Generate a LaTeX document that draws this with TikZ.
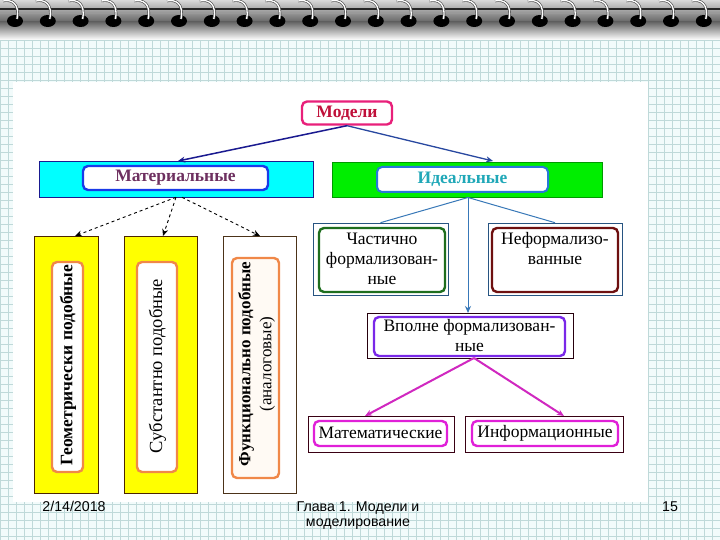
\documentclass[tikz,border=0pt]{standalone}
\usepackage{fontspec}
\setmainfont{Liberation Serif}
\newfontfamily\footsans{Liberation Sans}
\usetikzlibrary{arrows.meta,calc}
\definecolor{gridbg}{HTML}{F2FBFB}
\definecolor{gridln}{HTML}{BFD9D9}
\definecolor{modc}{HTML}{E8207A}
\definecolor{modt}{HTML}{C0103A}
\definecolor{matb}{HTML}{1A3AE8}
\definecolor{matt}{HTML}{6E3060}
\definecolor{idb}{HTML}{2878D8}
\definecolor{idt}{HTML}{20A8B8}
\definecolor{chg}{HTML}{1E6E1E}
\definecolor{nfr}{HTML}{6E1010}
\definecolor{vpp}{HTML}{7A28E8}
\definecolor{mag}{HTML}{E020D8}
\definecolor{magl}{HTML}{D028C0}
\definecolor{orb}{HTML}{F08848}
\definecolor{lblue}{HTML}{3878B8}
\definecolor{dblue}{HTML}{1A1A90}
\definecolor{cyanfill}{HTML}{00FFFF}
\definecolor{greenfill}{HTML}{00EE00}
\definecolor{yelfill}{HTML}{FFFF00}
\tikzset{
  band/.style={draw=#1, line width=0.6pt, inner sep=0pt},
  inbox/.style={draw=#1, line width=2.4pt, rounded corners=5pt, fill=white, inner sep=0pt, align=center},
  lab/.style={font=\fontsize{17.5}{20}\selectfont, align=center, inner sep=0pt},
  conn/.style={line width=1.1pt, -{Stealth[length=7pt,width=6pt]}},
  foot/.style={font=\footsans\fontsize{14.2}{15}\selectfont, inner sep=0pt, align=center},
}
\begin{document}
\begin{tikzpicture}[x=1pt,y=-1pt]
\useasboundingbox (0,0) rectangle (720,540);
% paper background
\fill[gridbg] (0,0) rectangle (720,540);
\foreach \gx in {0,8,...,720} \draw[gridln, line width=0.5pt] (\gx,38) -- (\gx,540);
\foreach \gy in {40,48,...,540} \draw[gridln, line width=0.5pt] (0,\gy) -- (720,\gy);
% spiral strip
\shade[top color=black!15, bottom color=black!60] (0,0) rectangle (720,22);
\shade[top color=black!60, bottom color=white] (0,22) rectangle (720,40);
\draw[black!85, line width=1.8pt] (0,9) -- (720,9);
\draw[white!60!black, line width=0.8pt] (0,13) -- (720,13);
\foreach \i in {0,...,21} {
  \pgfmathsetmacro{\rx}{15+32.8*\i}
  \fill[black] (\rx,21) ellipse[x radius=8, y radius=6];
  \draw[black!70, line width=2.6pt] (\rx+2,19) .. controls (\rx+5,4) and (\rx-3,-1) .. (\rx-12,1);
  \draw[white, line width=1.3pt] (\rx+2,19) .. controls (\rx+5,4) and (\rx-3,-1) .. (\rx-12,1);
}
% white sheet
\fill[white] (13,82) rectangle (648,502);

% top node
\node[inbox=modc, minimum width=90pt, minimum height=23pt, font=\fontsize{17.5}{20}\selectfont\bfseries, text=modt] (mod) at (347,113) {Модели};

% material branch
\node[band=dblue, fill=cyanfill, minimum width=274pt, minimum height=36pt] (matband) at (176,179) {};
\node[inbox=matb, minimum width=185pt, minimum height=24pt, font=\fontsize{17.5}{20}\selectfont\bfseries, text=matt] (mat) at (175.5,178) {Материальные};

% ideal branch
\node[band=green!60!black, fill=greenfill, minimum width=270pt, minimum height=35pt] (idband) at (467,179.5) {};
\node[inbox=idb, line width=2pt, minimum width=171pt, minimum height=25pt, font=\fontsize{17.5}{20}\selectfont\bfseries, text=idt] (id) at (462.5,179.5) {Идеальные};

% material children
\node[band=black!70!orange, fill=yelfill, minimum width=64pt, minimum height=257pt] (g1) at (66,364.5) {};
\node[inbox=orb, minimum width=31pt, minimum height=210pt] (g1i) at (67.5,367) {};
\node[lab, rotate=90, font=\fontsize{17.5}{22}\selectfont\bfseries] (g1t) at (68,365) {Геометрически подобные};

\node[band=black!70!orange, fill=yelfill, minimum width=73pt, minimum height=257pt] (g2) at (160.5,364.5) {};
\node[inbox=orb, minimum width=40pt, minimum height=210pt] (g2i) at (157,367) {};
\node[lab, rotate=90, font=\fontsize{18.5}{22}\selectfont] (g2t) at (157.5,366) {Субстантно подобные};

\node[band=black!60!brown, fill=white, minimum width=73pt, minimum height=257pt] (g3) at (259.5,364.5) {};
\node[inbox=orb, fill={rgb,255:red,255;green,250;blue,244}, minimum width=47pt, minimum height=220pt] (g3i) at (255.5,368) {};
\node[lab, rotate=90, font=\fontsize{17}{21}\selectfont] (g3t) at (256.5,364) {\textbf{Функционально подобные}\\(аналоговые)};

% ideal children
\node[band=lblue!70!black, minimum width=135pt, minimum height=72pt] (cho) at (380.5,259) {};
\node[inbox=chg, minimum width=126pt, minimum height=64pt] (ch) at (382,260) {};
\node[lab] (cht) at (382,259) {Частично\\формализован-\\ные};

\node[band=lblue!70!black, minimum width=134pt, minimum height=72pt] (nfo) at (555,259) {};
\node[inbox=nfr, minimum width=126pt, minimum height=64pt] (nf) at (555,260) {};
\node[lab, anchor=north] (nft) at (555,232) {Неформализо-\\ванные};

\node[band=black!80!purple, minimum width=206pt, minimum height=45pt] (vpo) at (470,335.5) {};
\node[inbox=vpp, minimum width=191pt, minimum height=39pt] (vp) at (469.5,336.5) {};
\node[lab] (vpt) at (469.5,336) {Вполне формализован-\\ные};

\node[band=black!70!purple, minimum width=146pt, minimum height=36pt] (mao) at (381,434) {};
\node[inbox=mag, minimum width=133pt, minimum height=25pt] (ma) at (380.5,433.5) {};
\node[lab] (mat2) at (380.5,433) {Математические};

\node[band=black!70!purple, minimum width=158pt, minimum height=36pt] (info) at (544,434) {};
\node[inbox=mag, minimum width=146pt, minimum height=25pt] (inf) at (545,433.5) {};
\node[lab] (inft) at (545,433) {Информационные};

% connector end points
\coordinate (modL) at (178,161);
\coordinate (modR) at (493,161);
\coordinate (g1top) at (75,236);
\coordinate (g2top) at (163,236);
\coordinate (g3top) at (260,236);
\coordinate (idS) at (468,197.5);
\coordinate (vpTop) at (468,313);
\coordinate (vpS) at (474,358);
\coordinate (maTop) at (365,416);
\coordinate (infTop) at (564,416);

% connectors
\draw[conn, dblue, line width=1.5pt] (mod.south) -- (modL);
\draw[conn, color={rgb,255:red,40;green,72;blue,160}, line width=1.3pt] (mod.south) -- (modR);
\draw[conn, black, dashed, line width=0.9pt] (matband.south) -- (g1top);
\draw[conn, black, dashed, line width=0.9pt] (matband.south) -- (g2top);
\draw[conn, black, dashed, line width=0.9pt] ($(matband.south)+(6,0)$) -- (g3top);
\draw[lblue, line width=1pt] (idS) -- (cho.north);
\draw[lblue, line width=1pt] (idS) -- (nfo.north);
\draw[conn, lblue, line width=1pt] (idS) -- (vpTop);
\draw[conn, magl, line width=2pt] (vpS) -- (maTop);
\draw[conn, magl, line width=2pt] (vpS) -- (infTop);

% footer
\node[foot, anchor=base] (date) at (74,511) {2/14/2018};
\node[foot, anchor=base] (chap1) at (358,511) {Глава 1. Модели и};
\node[foot, anchor=base] (chap2) at (358,526) {моделирование};
\node[foot, anchor=base] (pg) at (670,511) {15};
\end{tikzpicture}
\end{document}
